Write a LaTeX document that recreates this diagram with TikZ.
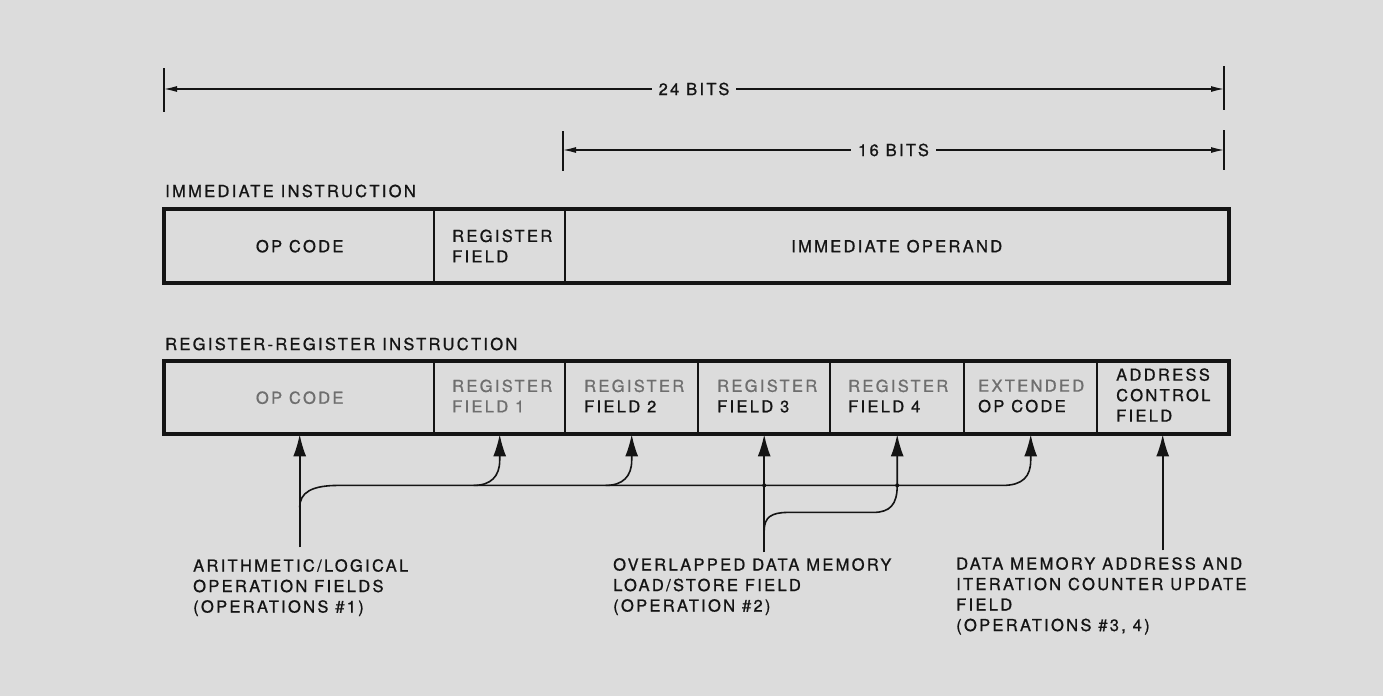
\documentclass[tikz,border=0pt]{standalone}
\usepackage{fontspec}
\setmainfont{TeX Gyre Heros}[LetterSpace=14,FakeBold=0.9]
\usetikzlibrary{arrows.meta,calc}
\definecolor{bg}{HTML}{DCDCDC}
\definecolor{ink}{HTML}{141414}
\definecolor{faded}{HTML}{6E6E6E}
\begin{document}
\begin{tikzpicture}[x=1pt,y=-1pt,
  font=\fontsize{16.5}{20.5}\selectfont,
  cell/.style={draw=ink, line width=2.4pt, anchor=north west, inner sep=0pt, text=ink},
  frame/.style={draw=ink, line width=4pt},
  tick/.style={ink, line width=1.3pt},
  dim/.style={ink, line width=1.2pt, {Latex[length=13pt,width=6pt]}-{Latex[length=13pt,width=6pt]}},
  dimlabel/.style={fill=bg, inner xsep=7pt, inner ysep=2pt, text=ink},
  conn/.style={ink, line width=1.6pt},
  up/.style={conn, -{Latex[length=22pt,width=13pt]}},
  caption/.style={anchor=base west, inner sep=0pt, text=ink},
  fld/.style={anchor=west, align=left, inner sep=0pt, text=ink},
  note/.style={anchor=north west, align=left, inner sep=0pt, text=ink},
  jdot/.style={circle, fill=ink, inner sep=0pt, minimum size=4pt}
]
\fill[bg] (0,0) rectangle (1383,696);

% dimension lines
\coordinate (a24t) at (164,68);  \coordinate (a24b) at (164,112);
\coordinate (b24t) at (1224,66); \coordinate (b24b) at (1224,110);
\draw[tick] (a24t) -- (a24b);
\draw[tick] (b24t) -- (b24b);
\coordinate (d24l) at (164,89); \coordinate (d24r) at (1224,89);
\draw[dim] (d24l) -- node[dimlabel] (t24) {24 BITS} (d24r);

\coordinate (a16t) at (563,131);  \coordinate (a16b) at (563,171);
\coordinate (b16t) at (1224,130); \coordinate (b16b) at (1224,170);
\draw[tick] (a16t) -- (a16b);
\draw[tick] (b16t) -- (b16b);
\coordinate (d16l) at (563,150); \coordinate (d16r) at (1224,150);
\draw[dim] (d16l) -- node[dimlabel] (t16) {16 BITS} (d16r);

% immediate instruction
\node[caption] (capi) at (165,197) {IMMEDIATE INSTRUCTION};
\node[cell, minimum width=269pt, minimum height=72pt] (iop) at (164,209) {OP CODE};
\node[cell, minimum width=131pt, minimum height=72pt] (ireg) at (433,209) {};
\node[cell, minimum width=663pt, minimum height=72pt] (iimm) at (564,209) {IMMEDIATE OPERAND};
\node[fld] (tireg) at (452,246) {REGISTER\\FIELD};
\draw[frame] (iop.north west) rectangle (iimm.south east);

% register-register instruction
\node[caption] (capr) at (165,350) {REGISTER-REGISTER INSTRUCTION};
\node[cell, minimum width=269pt, minimum height=71pt, text=faded] (rop) at (164,361) {OP CODE};
\node[cell, minimum width=131pt, minimum height=71pt] (rf1) at (433,361) {};
\node[cell, minimum width=133pt, minimum height=71pt] (rf2) at (564,361) {};
\node[cell, minimum width=132pt, minimum height=71pt] (rf3) at (697,361) {};
\node[cell, minimum width=134pt, minimum height=71pt] (rf4) at (829,361) {};
\node[cell, minimum width=133pt, minimum height=71pt] (rext) at (963,361) {};
\node[cell, minimum width=131pt, minimum height=71pt] (radr) at (1096,361) {};
\draw[frame] (rop.north west) rectangle (radr.south east);

\node[fld, text=faded] (trf1) at (452,396) {REGISTER\\FIELD 1};
\node[fld] (trf2) at (584,396) {\textcolor{faded}{REGISTER}\\FIELD 2};
\node[fld] (trf3) at (717,396) {\textcolor{faded}{REGISTER}\\FIELD 3};
\node[fld] (trf4) at (848,396) {\textcolor{faded}{REGISTER}\\FIELD 4};
\node[fld] (trext) at (978,396) {\textcolor{faded}{EXTENDED}\\OP CODE};
\node[fld] (tradr) at (1116,395) {ADDRESS\\CONTROL\\FIELD};

% connectors: arithmetic / logical
\coordinate (s1) at ($(rop.south)+(0,113)$);
\draw[up] (s1) -- (rop.south);
\coordinate (bus0) at ($(rop.south)+(0,73)$);
\coordinate (busx) at ($(rext.south)+(0,26)$);
\draw[up] (bus0) .. controls ($(rop.south)+(0,58)$) and ($(rop.south)+(12,51)$) .. ($(rop.south)+(39,51)$)
  -- ($(rext.south)+(-28,51)$) .. controls ($(rext.south)+(-8,51)$) and ($(rext.south)+(0,42)$) .. (busx) -- (rext.south);
\draw[up] ($(rf1.south)+(-26,51)$) .. controls ($(rf1.south)+(-9,51)$) and ($(rf1.south)+(0,42)$) .. ($(rf1.south)+(0,26)$) -- (rf1.south);
\draw[up] ($(rf2.south)+(-26,51)$) .. controls ($(rf2.south)+(-9,51)$) and ($(rf2.south)+(0,42)$) .. ($(rf2.south)+(0,26)$) -- (rf2.south);

% connectors: data memory load/store
\coordinate (s2) at ($(rf3.south)+(0,118)$);
\draw[up] (s2) -- (rf3.south);
\draw[up] ($(rf3.south)+(0,96)$) .. controls ($(rf3.south)+(0,83)$) and ($(rf3.south)+(7,78)$) .. ($(rf3.south)+(24,78)$)
  -- ($(rf4.south)+(-24,78)$) .. controls ($(rf4.south)+(-7,78)$) and ($(rf4.south)+(0,70)$) .. ($(rf4.south)+(0,51)$) -- (rf4.south);
\node[jdot] (j3) at ($(rf3.south)+(0,51)$) {};
\node[jdot] (j4) at ($(rf4.south)+(0,51)$) {};

% connectors: address control
\coordinate (s3) at ($(radr.south)+(0,116)$);
\draw[up] (s3) -- (radr.south);

% notes
\node[note] (n1) at (193,559) {ARITHMETIC/LOGICAL\\OPERATION FIELDS\\(OPERATIONS \#1)};
\node[note] (n2) at (613,558) {OVERLAPPED DATA MEMORY\\LOAD/STORE FIELD\\(OPERATION \#2)};
\node[note] (n3) at (956,557) {DATA MEMORY ADDRESS AND\\ITERATION COUNTER UPDATE\\FIELD\\(OPERATIONS \#3, 4)};
\end{tikzpicture}
\end{document}
